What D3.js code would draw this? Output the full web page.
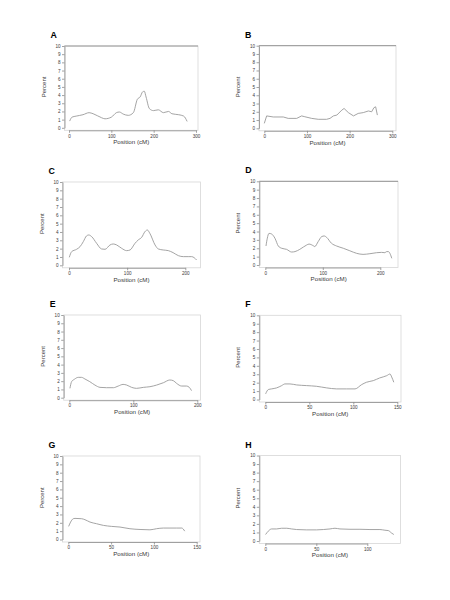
<!DOCTYPE html>
<html>
<head>
<meta charset="utf-8">
<script src="https://cdn.jsdelivr.net/npm/d3@7"></script>
<style>
  html, body { margin: 0; padding: 0; background: #fff; }
  svg { display: block; }
  text { font-family: "Liberation Sans", Arial, sans-serif; }
</style>
</head>
<body>
<svg id="chart" width="450" height="600"></svg>
<script>
// ---------------- DATA ----------------
const panelLetters = ["A", "B", "C", "D", "E", "F", "G", "H"];
const yTicks = [0, 1, 2, 3, 4, 5, 6, 7, 8, 9, 10];

const ticksA = [0, 100, 200, 300];
const ticksB = [0, 100, 200, 300];
const ticksC = [0, 100, 200];
const ticksD = [0, 100, 200];
const ticksE = [0, 100, 200];
const ticksF = [0, 50, 100, 150];
const ticksG = [0, 50, 100, 150];
const ticksH = [0, 50, 100];

const posA = [1.6, 7, 17, 33, 47.5, 57, 77, 85, 100, 112, 119, 128, 140, 152, 161.6, 168, 174, 178, 182, 190, 199.5, 211, 223, 235, 243, 259, 271, 279];
const pctA = [0.82, 1.3, 1.43, 1.6, 1.85, 1.72, 1.23, 1.1, 1.3, 1.85, 1.93, 1.68, 1.52, 1.85, 3.5, 3.77, 4.4, 4.47, 3.77, 2.34, 2.1, 2.2, 1.85, 2.0, 1.72, 1.6, 1.43, 0.78];

const posB = [0, 5.5, 21, 44.5, 56, 76, 87.5, 95, 111, 126.5, 146, 154, 162, 170, 181.6, 187, 197, 209, 220, 232, 244, 251.6, 257, 261, 265];
const pctB = [0.6, 1.5, 1.37, 1.37, 1.2, 1.2, 1.5, 1.4, 1.2, 1.09, 1.09, 1.2, 1.5, 1.6, 2.2, 2.4, 1.9, 1.5, 1.8, 1.9, 2.1, 2.0, 2.5, 2.6, 1.6];

const posC = [0.5, 4.6, 13, 19, 24.6, 30, 34, 39, 47.5, 56, 62, 70.5, 76, 82, 90.5, 99, 105, 113.5, 119, 125, 130.6, 134.7, 139, 148, 153.6, 162, 170.8, 179, 188, 196.6, 205, 211, 219.5];
const pctC = [0.96, 1.64, 1.92, 2.24, 2.84, 3.52, 3.64, 3.44, 2.64, 1.96, 1.92, 2.44, 2.56, 2.44, 2.04, 1.76, 1.84, 2.64, 3.04, 3.36, 4.04, 4.24, 3.84, 2.44, 1.96, 1.84, 1.76, 1.52, 1.16, 1.04, 1.04, 1.04, 0.64];

const posD = [1.2, 3.5, 6.4, 11, 16.8, 22.6, 28.4, 37, 45.8, 51.6, 60, 72, 76, 83.5, 86, 92, 98, 102.6, 106.7, 115, 124, 135.6, 147, 159, 170, 182, 193.6, 202, 208, 211, 214, 220];
const pctD = [2.27, 3.2, 3.78, 3.7, 3.19, 2.27, 2.0, 1.87, 1.55, 1.6, 1.87, 2.39, 2.5, 2.3, 2.2, 2.8, 3.39, 3.47, 3.3, 2.6, 2.27, 2.0, 1.7, 1.39, 1.27, 1.35, 1.47, 1.51, 1.47, 1.6, 1.6, 0.8];

const posE = [1, 3.6, 7.8, 14, 19, 24.5, 32, 40, 48, 58, 69, 76.5, 84, 89.6, 97.4, 105, 115.6, 126, 136.5, 147, 157, 162.5, 167.7, 175.5, 183, 187.5, 191];
const pctE = [1.13, 1.94, 2.22, 2.46, 2.46, 2.26, 1.94, 1.53, 1.25, 1.21, 1.21, 1.41, 1.61, 1.53, 1.25, 1.13, 1.25, 1.33, 1.53, 1.81, 2.14, 2.06, 1.73, 1.41, 1.41, 1.25, 0.85];

const posF = [0.4, 3.4, 7.2, 12.9, 18.6, 22.3, 28, 35.6, 47, 58, 69.7, 81, 92.4, 102, 109.5, 115, 122.7, 130, 138, 141.7, 143.6, 146];
const pctF = [0.67, 1.18, 1.26, 1.38, 1.65, 1.85, 1.85, 1.73, 1.65, 1.57, 1.38, 1.26, 1.26, 1.26, 1.77, 2.05, 2.24, 2.56, 2.83, 3.03, 2.68, 2.05];

const posG = [0.4, 2.7, 5.8, 7.8, 15.6, 19.5, 25.3, 33, 41, 50.6, 60.4, 72, 83.8, 95.4, 103, 111, 118.8, 126.6, 132.5, 136];
const pctG = [1.57, 2.09, 2.49, 2.53, 2.49, 2.37, 2.09, 1.89, 1.69, 1.57, 1.49, 1.29, 1.2, 1.16, 1.29, 1.37, 1.37, 1.37, 1.37, 1.0];

const posH = [0.3, 2.9, 6.2, 11, 16, 21, 25.8, 30.7, 40.5, 50.3, 56.9, 63.4, 68.3, 73.2, 83, 92.8, 102.6, 112.4, 117.3, 120.6, 123.9, 126];
const pctH = [0.76, 1.15, 1.41, 1.41, 1.49, 1.49, 1.41, 1.34, 1.3, 1.3, 1.34, 1.41, 1.49, 1.41, 1.37, 1.37, 1.34, 1.34, 1.26, 1.22, 0.92, 0.76];

const yLabel = "Percent";
const xLabel = "Position (cM)";

// ---------------- LAYOUT (pixels) ----------------
// [left, right, top(y=10), zero(y=0), x px of first tick, x px of last tick]
const layout = [
  [64.5, 198, 46, 127.8, 69, 196],
  [259, 396, 45.7, 128.3, 264.3, 392.3],
  [62.5, 200.5, 182, 265.3, 69, 185.3],
  [259.3, 398, 181.3, 265, 265.3, 380.3],
  [63.7, 200.5, 315, 397.7, 69.3, 197.3],
  [259.3, 401, 315.3, 399.5, 265.3, 397.3],
  [62.5, 200, 456, 539.5, 68.3, 196.7],
  [259.3, 400.5, 455.5, 541, 265.3, 367.3]
];
// panels whose top edge shows as a darker line
const darkTop = [true, true, false, true, false, false, false, false];

const ticksAll = [ticksA, ticksB, ticksC, ticksD, ticksE, ticksF, ticksG, ticksH];
const posAll = [posA, posB, posC, posD, posE, posF, posG, posH];
const pctAll = [pctA, pctB, pctC, pctD, pctE, pctF, pctG, pctH];

const svg = d3.select("#chart");
const axisColor = "#8c8c8c";
const lineColor = "#9a9a9a";
const textColor = "#3a3a3a";

panelLetters.forEach((letter, i) => {
  const [L, R, T, Z, x0, x1] = layout[i];
  const ticks = ticksAll[i];
  const x = d3.scaleLinear().domain([ticks[0], ticks[ticks.length - 1]]).range([x0, x1]);
  const y = d3.scaleLinear().domain([0, 10]).range([Z, T]);
  const B = Z + 2.5;
  const g = svg.append("g");

  // box (faint)
  g.append("rect")
    .attr("x", L).attr("y", T)
    .attr("width", R - L).attr("height", B - T)
    .attr("fill", "none")
    .attr("stroke", "#d6d6d6")
    .attr("stroke-width", 0.8);

  if (darkTop[i]) {
    g.append("line")
      .attr("x1", L).attr("x2", R)
      .attr("y1", y(10)).attr("y2", y(10))
      .attr("stroke", axisColor).attr("stroke-width", 0.9);
  }

  // y axis
  const yAxis = d3.axisLeft(y).tickValues(yTicks).tickSize(2.5).tickSizeOuter(0).tickPadding(1.5);
  const ya = g.append("g").attr("transform", `translate(${L},0)`).call(yAxis);
  ya.select(".domain").attr("stroke", axisColor).attr("stroke-width", 0.8);
  ya.selectAll(".tick line").attr("stroke", axisColor).attr("stroke-width", 0.8);
  ya.selectAll(".tick text").attr("fill", textColor).attr("font-size", 4.6);

  // x axis
  const xAxis = d3.axisBottom(x).tickValues(ticks).tickSize(2.5).tickSizeOuter(0).tickPadding(1.5);
  const xa = g.append("g").attr("transform", `translate(0,${B})`).call(xAxis);
  xa.select(".domain").attr("stroke", axisColor).attr("stroke-width", 0.8);
  xa.selectAll(".tick line").attr("stroke", axisColor).attr("stroke-width", 0.8);
  xa.selectAll(".tick text").attr("fill", textColor).attr("font-size", 4.6);

  // data line
  const pts = posAll[i].map((p, k) => [p, pctAll[i][k]]);
  const line = d3.line()
    .x(d => x(d[0]))
    .y(d => y(d[1]))
    .curve(i === 1 ? d3.curveLinear : d3.curveMonotoneX);
  g.append("path")
    .datum(pts)
    .attr("d", line)
    .attr("fill", "none")
    .attr("stroke", lineColor)
    .attr("stroke-width", 0.9);

  // axis labels
  g.append("text")
    .attr("transform", `translate(${L - 20.5},${(T + Z) / 2}) rotate(-90)`)
    .attr("text-anchor", "middle")
    .attr("dominant-baseline", "middle")
    .attr("font-size", 6)
    .attr("fill", textColor)
    .text(yLabel);

  g.append("text")
    .attr("x", (L + R) / 2)
    .attr("y", Z + 14.8)
    .attr("text-anchor", "middle")
    .attr("dominant-baseline", "middle")
    .attr("font-size", 6.2)
    .attr("fill", textColor)
    .text(xLabel);

  // panel letter
  g.append("text")
    .attr("x", L - 14)
    .attr("y", T - 8)
    .attr("font-size", 8.8)
    .attr("font-weight", "bold")
    .attr("fill", "#000")
    .text(letter);
});
</script>
</body>
</html>
